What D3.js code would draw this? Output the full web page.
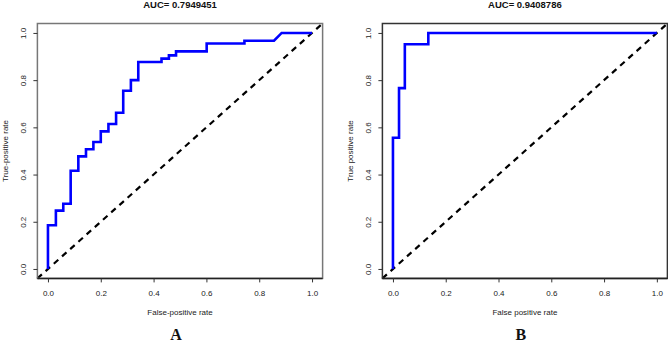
<!DOCTYPE html>
<html>
<head>
<meta charset="utf-8">
<script src="https://cdn.jsdelivr.net/npm/d3@7"></script>
<style>
  body { margin: 0; background: #fff; }
  svg { display: block; font-family: "Liberation Sans", Arial, sans-serif; }
</style>
</head>
<body>
<svg id="chart" width="668" height="344"></svg>
<script>
// ROC curve vertices
const fprA = [0, 0, 0.03, 0.03, 0.058, 0.058, 0.086, 0.086, 0.115, 0.115, 0.144, 0.144, 0.172, 0.172,
  0.2, 0.2, 0.229, 0.229, 0.258, 0.258, 0.285, 0.285, 0.314, 0.314, 0.342, 0.342, 0.43, 0.43,
  0.458, 0.458, 0.485, 0.485, 0.601, 0.601, 0.744, 0.744, 0.856, 0.885, 1];
const tprA = [0, 0.185, 0.185, 0.247, 0.247, 0.276, 0.276, 0.416, 0.416, 0.477, 0.477, 0.507, 0.507, 0.538,
  0.538, 0.583, 0.583, 0.614, 0.614, 0.662, 0.662, 0.755, 0.755, 0.8, 0.8, 0.877, 0.877, 0.891,
  0.891, 0.905, 0.905, 0.922, 0.922, 0.955, 0.955, 0.967, 0.967, 1, 1];

const fprB = [0, 0, 0.023, 0.023, 0.045, 0.045, 0.134, 0.134, 1];
const tprB = [0, 0.556, 0.556, 0.766, 0.766, 0.952, 0.952, 1, 1];

const ticks = [0, 0.2, 0.4, 0.6, 0.8, 1.0];

const panels = [
  {fpr: fprA, tpr: tprA, title: "AUC= 0.7949451", xlab: "False-positive rate", ylab: "True-positive rate",
   letter: "A", x0: 37.4, x1: 322.6, border: "#777"},
  {fpr: fprB, tpr: tprB, title: "AUC= 0.9408786", xlab: "False positive rate", ylab: "True positive rate",
   letter: "B", x0: 382.4, x1: 667.4, border: "#333"}
];

const svg = d3.select("#chart");
svg.append("rect").attr("width", 668).attr("height", 344).attr("fill", "#fff");

panels.forEach(p => {
  const x = d3.scaleLinear().domain([-0.04, 1.04]).range([p.x0, p.x1]);
  const y = d3.scaleLinear().domain([-0.04, 1.04]).range([278.4, 23.5]);
  const g = svg.append("g");
  const cx = (p.x0 + p.x1) / 2;

  // diagonal reference line
  g.append("line")
    .attr("x1", x(-0.04)).attr("y1", y(-0.04))
    .attr("x2", x(1.04)).attr("y2", y(1.04))
    .attr("stroke", "#000")
    .attr("stroke-width", 2.2)
    .attr("stroke-dasharray", "6,5");

  const pts = p.fpr.map((f, i) => [f, p.tpr[i]]);
  g.append("path")
    .datum(pts)
    .attr("fill", "none")
    .attr("stroke", "#0000ff")
    .attr("stroke-width", 2.6)
    .attr("d", d3.line().x(d => x(d[0])).y(d => y(d[1])));

  // box
  g.append("rect")
    .attr("x", p.x0).attr("y", y(1.04))
    .attr("width", p.x1 - p.x0).attr("height", y(-0.04) - y(1.04))
    .attr("fill", "none").attr("stroke", p.border).attr("stroke-width", 1.5);
  g.append("line")
    .attr("x1", p.x0).attr("x2", p.x1).attr("y1", y(-0.04)).attr("y2", y(-0.04))
    .attr("stroke", "#222").attr("stroke-width", 1.5);

  // x axis
  const xa = g.append("g")
    .attr("transform", `translate(0,${y(-0.04)})`)
    .call(d3.axisBottom(x).tickValues(ticks).tickFormat(d3.format(".1f")).tickSize(4).tickPadding(8));
  xa.select(".domain").remove();
  xa.selectAll("line").attr("stroke", "#333");
  xa.selectAll("text").attr("fill", "#222")
    .style("font-size", "8px").style("font-family", "'Liberation Sans', Arial, sans-serif");

  // y axis
  const ya = g.append("g")
    .attr("transform", `translate(${p.x0},0)`)
    .call(d3.axisLeft(y).tickValues(ticks).tickFormat(d3.format(".1f")).tickSize(4));
  ya.select(".domain").remove();
  ya.selectAll("line").attr("stroke", "#333");
  ya.selectAll("text")
    .attr("x", null).attr("dy", null)
    .attr("text-anchor", "middle")
    .attr("transform", "translate(-11.8,0) rotate(-90)")
    .attr("fill", "#222")
    .style("font-size", "8px").style("font-family", "'Liberation Sans', Arial, sans-serif");

  // titles
  g.append("text").attr("x", cx).attr("y", 7.5).attr("text-anchor", "middle")
    .style("font-size", "9.5px").style("font-weight", "bold").attr("fill", "#111").text(p.title);
  g.append("text").attr("x", cx).attr("y", 315).attr("text-anchor", "middle")
    .style("font-size", "8px").attr("fill", "#222").text(p.xlab);
  g.append("text")
    .attr("transform", `translate(${p.x0 - 29},${(y(-0.04) + y(1.04)) / 2}) rotate(-90)`)
    .attr("text-anchor", "middle")
    .style("font-size", "8px").attr("fill", "#222").text(p.ylab);
  g.append("text").attr("x", cx - 4).attr("y", 340).attr("text-anchor", "middle")
    .style("font-family", "'Liberation Serif', 'Times New Roman', serif")
    .style("font-size", "16px").style("font-weight", "bold").attr("fill", "#111").text(p.letter);
});
</script>
</body>
</html>
